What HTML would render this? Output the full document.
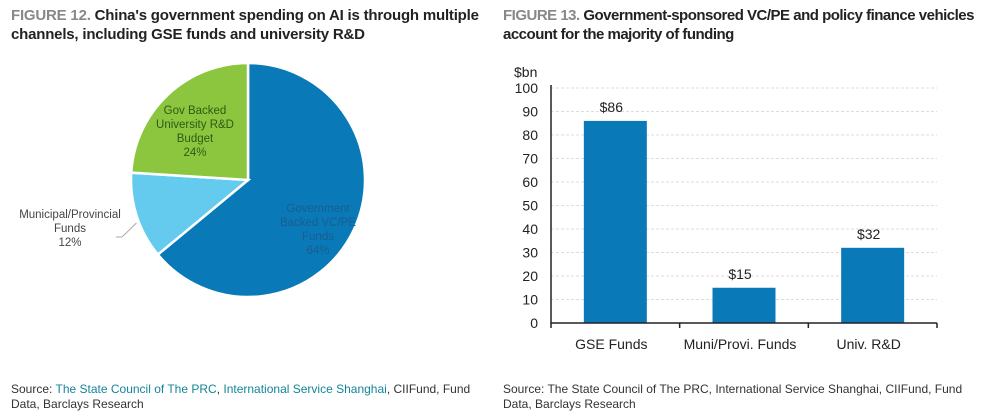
<!DOCTYPE html>
<html><head><meta charset="utf-8"><style>
body{margin:0;width:984px;height:417px;background:#fff;font-family:"Liberation Sans",sans-serif;position:relative;overflow:hidden}
.t{position:absolute;font-weight:bold;font-size:15px;line-height:19px;color:#222;letter-spacing:-0.2px}
.t span{color:#888}
.src{position:absolute;font-size:12px;line-height:15px;color:#333}
.src a{color:#14859a;text-decoration:none}
</style></head><body>
<div class="t" style="left:11px;top:6px;width:475px"><span>FIGURE 12.</span> China's government spending on AI is through multiple channels, including GSE funds and university R&amp;D</div>
<div class="t" style="left:503px;top:6px;width:481px;letter-spacing:-0.5px"><span>FIGURE 13.</span> Government-sponsored VC/PE and policy finance vehicles account for the majority of funding</div>
<svg id="pie" width="492" height="340" style="position:absolute;left:0;top:0" font-family="Liberation Sans, sans-serif"></svg>
<svg id="bar" width="492" height="360" style="position:absolute;left:492px;top:0" font-family="Liberation Sans, sans-serif"></svg>
<div class="src" style="left:11px;top:382px;width:470px">Source: <a>The State Council of The PRC</a>, <a>International Service Shanghai</a>, CIIFund, Fund Data, Barclays Research</div>
<div class="src" style="left:503px;top:382px;width:480px">Source: The State Council of The PRC, International Service Shanghai, CIIFund, Fund Data, Barclays Research</div>
<script>
const NS="http://www.w3.org/2000/svg";
function mk(p,tag,a){const e=document.createElementNS(NS,tag);for(const k in a)e.setAttribute(k,a[k]);p.appendChild(e);return e;}
// Pie data
const pieLabels=[["Government","Backed VC/PE","Funds"],["Municipal/Provincial","Funds"],["Gov Backed","University R&D","Budget"]];
const pieValues=[64,12,24];
const pieColors=["#0a79b8","#64cbef","#8cc63f"];
const pie=document.getElementById('pie');
const cx=248,cy=180,r=117;
const labelPos=[[318,212],[70,218],[195,114]];
let tot=pieValues.reduce((a,b)=>a+b,0),ang=0;
pieValues.forEach((v,i)=>{
  const a0=ang,a1=ang+v/tot*2*Math.PI;ang=a1;
  const x0=cx+r*Math.sin(a0),y0=cy-r*Math.cos(a0),x1=cx+r*Math.sin(a1),y1=cy-r*Math.cos(a1);
  const p=mk(pie,'path',{d:`M${cx},${cy}L${x0},${y0}A${r},${r} 0 ${a1-a0>Math.PI?1:0} 1 ${x1},${y1}Z`,fill:pieColors[i],stroke:'#fff','stroke-width':2.5});
  
  
  const mid=(a0+a1)/2;
  const fill=i===0?'#1a5d8e':(i===1?'#444':'#2f5a12');
  if(i===1){
    const ln=mk(pie,'polyline',{points:`116,237 122,237 ${cx+(r-4)*Math.sin(mid)-4},${cy-(r-4)*Math.cos(mid)+8}`,fill:'none',stroke:'#aaa','stroke-width':1});
    
    
  }
  const [lx,ly]=labelPos[i];
  const lines=pieLabels[i].concat([v+'%']);
  const t=mk(pie,'text',{x:lx,y:ly,'font-size':11.5,fill:fill,'text-anchor':'middle'});
  
  
  lines.forEach((s,j)=>{const ts=mk(t,'tspan',{x:lx,dy:j?14:0});ts.textContent=s;});
});
// Bar data
const categories=["GSE Funds","Muni/Provi. Funds","Univ. R&D"];
const values=[86,15,32];
const valueLabels=["$86","$15","$32"];
const yTicks=[0,10,20,30,40,50,60,70,80,90,100];
const bar=document.getElementById('bar');
const X0=59,X1=445,Y0=323,Y1=88;
const y=v=>Y0-(v-0)/(100-0)*(Y0-Y1);
const bw=(X1-X0)/categories.length;
const x=i=>X0+bw*(i+0.5);
yTicks.forEach(v=>{
  if(v>0){const g=mk(bar,'line',{x1:X0,x2:X1,y1:y(v),y2:y(v),stroke:'#ddd','stroke-dasharray':'3,2'});}
  const t=mk(bar,'text',{x:X0-13,y:y(v)+5,'font-size':14,fill:'#222','text-anchor':'end'});t.textContent=v;
  
  
});
const u=mk(bar,'text',{x:22,y:77,'font-size':14,fill:'#222'});u.textContent='$bn';


categories.forEach((c,i)=>{
  const b=mk(bar,'rect',{x:x(i)-31.5,y:y(values[i]),width:63,height:Y0-y(values[i]),fill:'#0a79b8'});
  
  
  const vl=mk(bar,'text',{x:x(i)-4,y:y(values[i])-9,'font-size':14,fill:'#222','text-anchor':'middle'});vl.textContent=valueLabels[i];
  
  
  const cl=mk(bar,'text',{x:x(i)-4,y:349,'font-size':14,fill:'#222','text-anchor':'middle'});cl.textContent=c;
  
  
});
const ax=mk(bar,'path',{d:`M${X0},${Y1-3}V${Y0}H${X1}`,fill:'none',stroke:'#222','stroke-width':1.5});


for(let i=0;i<=categories.length;i++){const tk=mk(bar,'line',{x1:X0+bw*i,x2:X0+bw*i,y1:Y0,y2:Y0+5,stroke:'#222','stroke-width':1.5});}
</script>
</body></html>
